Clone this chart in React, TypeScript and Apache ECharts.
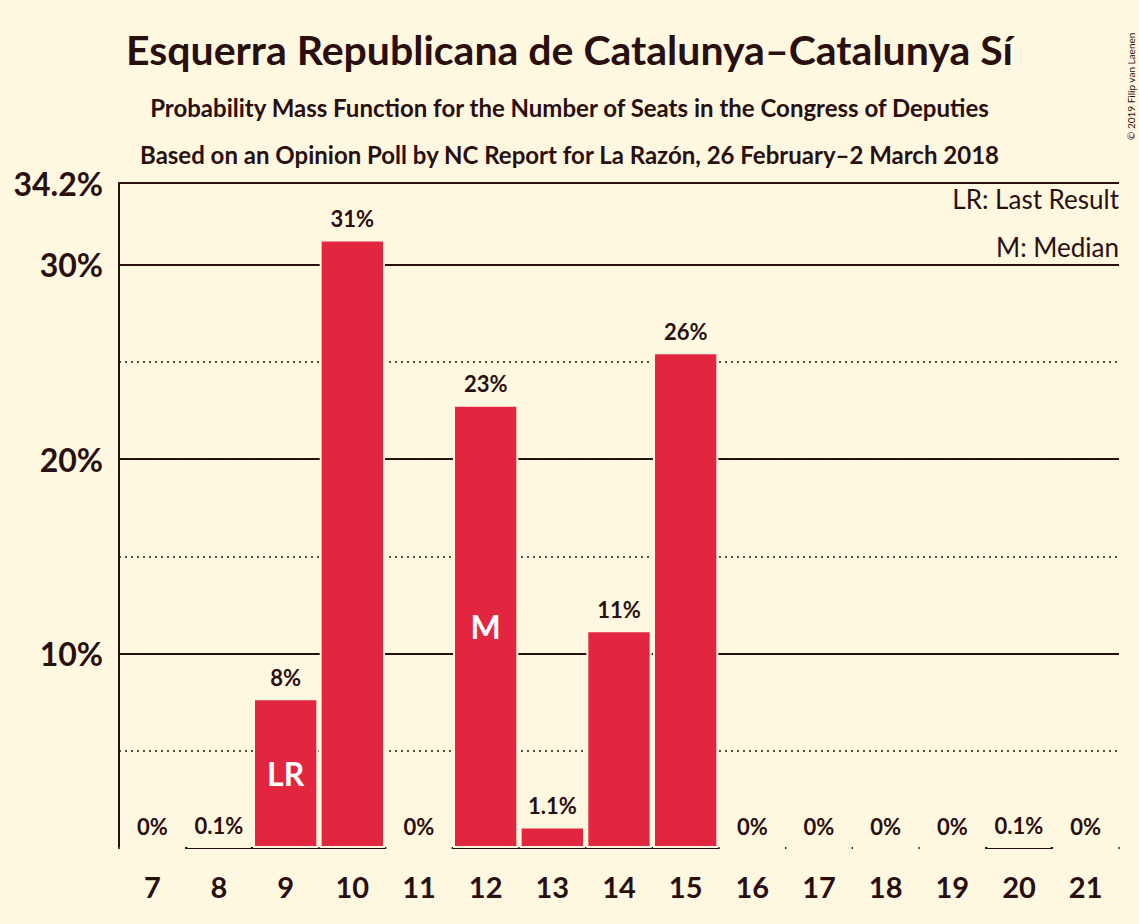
import React, { useEffect, useRef } from 'react';
import * as echarts from 'echarts';

const seats = ['7', '8', '9', '10', '11', '12', '13', '14', '15', '16', '17', '18', '19', '20', '21'];
const probs = [0, 0.1, 7.7, 31.3, 0, 22.8, 1.1, 11.2, 25.5, 0, 0, 0, 0, 0.1, 0];
const valueLabels = ['0%', '0.1%', '8%', '31%', '0%', '23%', '1.1%', '11%', '26%', '0%', '0%', '0%', '0%', '0.1%', '0%'];
const markers = ['', '', 'LR', '', '', 'M', '', '', '', '', '', '', '', '', ''];

const BG = '#FFF8E1';
const RED = '#E3263F';
const INK = '#2A0F0F';
const FONT = 'Lato';

const App: React.FC = () => {
  const chartRef = useRef<HTMLDivElement>(null);

  useEffect(() => {
    document.body.style.margin = '0';
    if (!chartRef.current) return;
    const chart = echarts.init(chartRef.current, undefined, { renderer: 'svg' });
    const option: echarts.EChartsOption = {
      animation: false,
      backgroundColor: BG,
      textStyle: { fontFamily: FONT, color: INK },
      title: [
        { text: 'Esquerra Republicana de Catalunya–Catalunya Sí', left: 'center', top: 24, textStyle: { fontSize: 41, fontWeight: 'bold', color: INK, fontFamily: FONT } },
        { text: 'Probability Mass Function for the Number of Seats in the Congress of Deputies', left: 'center', top: 90, textStyle: { fontSize: 24, fontWeight: 'bold', color: INK, fontFamily: FONT } },
        { text: 'Based on an Opinion Poll by NC Report for La Razón, 26 February–2 March 2018', left: 'center', top: 137, textStyle: { fontSize: 24, fontWeight: 'bold', color: INK, fontFamily: FONT } },
      ],
      graphic: [
        { type: 'text', right: 20, top: 186, style: { text: 'LR: Last Result', fontSize: 26, fontFamily: FONT, fill: INK } },
        { type: 'text', right: 20, top: 234, style: { text: 'M: Median', fontSize: 26, fontFamily: FONT, fill: INK } },
        { type: 'text', x: 1126, y: 140, rotation: Math.PI / 2, style: { text: '© 2019 Filip van Laenen', fontSize: 10, fontFamily: FONT, fill: INK } },
      ],
      grid: { left: 119, right: 20, top: 183, bottom: 76, containLabel: false },
      xAxis: {
        type: 'category',
        data: seats,
        axisLine: { lineStyle: { color: INK, width: 2 } },
        axisTick: { show: false },
        axisLabel: { fontSize: 29, fontWeight: 'bold', color: INK, fontFamily: FONT, margin: 24 },
      },
      yAxis: [
        {
          type: 'value', min: 0, max: 34.2, interval: 10,
          axisLine: { show: true, lineStyle: { color: INK, width: 2 } },
          axisTick: { show: false },
          splitLine: { lineStyle: { color: INK, width: 2 } },
          axisLabel: {
            fontSize: 32, fontWeight: 'bold', color: INK, fontFamily: FONT, margin: 16,
            formatter: (v: number) => (v === 0 ? '' : v + '%'),
          },
        },
        {
          type: 'value', min: 0, max: 34.2, interval: 5, show: true,
          axisLine: { show: false }, axisTick: { show: false }, axisLabel: { show: false },
          splitLine: { lineStyle: { color: INK, width: 1.5, type: [2, 4] } },
        },
      ],
      series: [
        {
          type: 'bar',
          data: probs,
          barCategoryGap: '2%',
          itemStyle: { color: RED, borderColor: BG, borderWidth: 2 },
          z: 5,
          label: {
            show: true, position: 'top', distance: 8,
            fontSize: 22, fontWeight: 'bold', color: INK, fontFamily: FONT,
            backgroundColor: BG, padding: [2, 4],
            formatter: (p: any) => valueLabels[p.dataIndex],
          },
        },
        {
          type: 'bar',
          data: probs,
          barGap: '-100%',
          barCategoryGap: '2%',
          itemStyle: { color: 'transparent' },
          z: 6,
          label: {
            show: true, position: 'inside',
            fontSize: 32, fontWeight: 'bold', color: '#FFFFFF', fontFamily: FONT,
            formatter: (p: any) => markers[p.dataIndex],
          },
        },
      ],
    };
    chart.setOption(option);
    return () => chart.dispose();
  }, []);

  return <div ref={chartRef} style={{ width: 1139, height: 924 }} />;
};

export default App;
